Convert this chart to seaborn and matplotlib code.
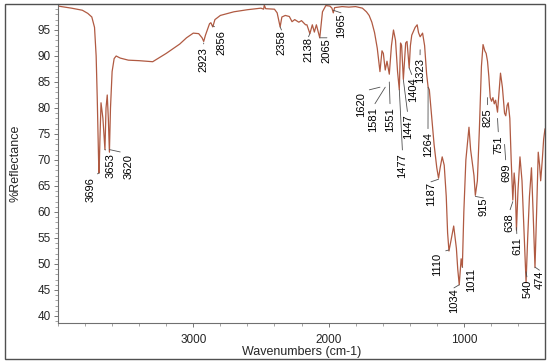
import numpy as np
import pandas as pd
import seaborn as sns
import matplotlib
matplotlib.use("Agg")
import matplotlib.pyplot as plt
from matplotlib.ticker import MultipleLocator, FixedLocator
from matplotlib.patches import Rectangle

# Spectrum (wavenumber, %reflectance)
wavenumber = [4000, 3900, 3820, 3780, 3750, 3730, 3718, 3710, 3700, 3696, 3690, 3682, 3668,
              3653, 3645, 3636, 3628, 3620, 3612, 3600, 3585, 3570, 3540, 3480, 3400, 3300,
              3200, 3100, 3050, 3000, 2960, 2935, 2923, 2910, 2880, 2870, 2856, 2840, 2800,
              2700, 2600, 2500, 2480, 2475, 2465, 2400, 2380, 2365, 2358, 2345, 2320, 2290,
              2270, 2250, 2220, 2200, 2170, 2160, 2138, 2120, 2105, 2090, 2065, 2045, 2020,
              1990, 1975, 1965, 1955, 1900, 1850, 1800, 1750, 1720, 1700, 1680, 1660, 1640,
              1620, 1605, 1595, 1581, 1568, 1551, 1535, 1520, 1505, 1490, 1477, 1468, 1460,
              1447, 1430, 1420, 1404, 1395, 1385, 1360, 1345, 1335, 1323, 1305, 1290, 1275,
              1264, 1255, 1240, 1220, 1200, 1187, 1175, 1160, 1145, 1130, 1120, 1110, 1095,
              1075, 1055, 1045, 1034, 1020, 1011, 1000, 985, 962, 950, 940, 925, 915, 900,
              885, 870, 858, 845, 835, 825, 815, 805, 795, 785, 775, 765, 751, 740, 729, 715,
              699, 690, 680, 672, 660, 650, 638, 628, 620, 611, 600, 585, 570, 555, 540, 528,
              515, 500, 488, 474, 462, 450, 440, 432, 420, 410, 400]
reflectance = [99.6, 99.2, 98.8, 98.2, 97.5, 95.5, 90, 82, 70, 67.5, 74, 81, 78,
               72, 80, 82.5, 78, 71.5, 80, 87, 89.5, 90, 89.6, 89.2, 89.1, 88.9,
               90.5, 92.3, 93.5, 94.4, 94.3, 93.5, 92.8, 94, 96.2, 96.4, 95.6, 97, 97.8,
               98.5, 98.9, 99.2, 99.0, 99.8, 99.1, 99.0, 98.3, 96.5, 95.6, 97.5, 97.8, 97.6,
               96.6, 97.0, 96.5, 96.8, 96, 96, 94.3, 96, 94.6, 96, 93.5, 98.5, 99.7,
               99.6, 99.2, 98.3, 99.3, 99.5, 99.4, 99.5, 99.2, 98.5, 97.8, 96.5, 94.5, 91.5,
               87, 91, 90.5, 87.3, 89, 86.5, 92, 95, 93, 87, 83.5, 92.5, 92,
               85.5, 92.5, 92.8, 87.7, 92, 94, 95.5, 96, 94.5, 93.7, 94.4, 92, 86.5,
               84, 83.5, 79, 73, 68.5, 66.5, 68.5, 70.6, 69, 63, 56, 52.5, 54.5,
               57.3, 53, 49, 46, 51, 49.4, 60, 70, 76.3, 72, 70, 67, 63.2, 66,
               76, 88, 92.2, 91, 90.5, 89, 86, 82, 81.3, 82, 80.8, 81.5, 79.2, 83, 86.7, 84,
               79, 78.5, 80.5, 81, 78, 70, 62.3, 67.5, 65, 56.5, 64, 70.6, 66, 56, 46.5, 55,
               63, 68.5, 60, 49.3, 60, 71.5, 69, 66, 70, 74, 76]

# Peak labels
peak_labels = ["3696", "3653", "3620", "2923", "2856", "2358", "2138", "2065", "1965",
               "1620", "1581", "1551", "1477", "1447", "1404", "1323", "1264", "1187",
               "1110", "1034", "1011", "915", "825", "751", "699", "638", "611", "540", "474"]
peak_wn = [3696, 3653, 3620, 2923, 2856, 2358, 2138, 2065, 1965,
           1620, 1581, 1551, 1477, 1447, 1404, 1323, 1264, 1187,
           1110, 1034, 1011, 915, 825, 751, 699, 638, 611, 540, 474]
peak_val = [67.5, 72, 72, 92.5, 95.8, 95.6, 94.3, 93.5, 98.8,
            84, 84, 85, 83.5, 85.4, 87.7, 91.2, 84, 66.3,
            52.7, 46, 49.4, 63, 82, 78, 73, 62, 57, 48.5, 49.4]
label_wn = [3756, 3608, 3479, 2924, 2795, 2348, 2148, 2012, 1908,
            1760, 1672, 1545, 1453, 1414, 1376, 1324, 1265, 1243,
            1195, 1073, 947, 855, 825, 744, 689, 666, 607, 530, 441]
label_top = [66.7, 71.3, 71.2, 91.7, 95.0, 95.0, 93.7, 93.5, 98.3,
             83.1, 80.2, 80.2, 71.3, 78.7, 85.8, 89.6, 75.4, 65.8,
             52.1, 45.4, 49.2, 62.7, 80.0, 74.8, 69.4, 59.8, 55.2, 46.9, 48.8]

y_ticks = [40, 45, 50, 55, 60, 65, 70, 75, 80, 85, 90, 95]
x_ticks = [1000, 2000, 3000]

df = pd.DataFrame({"Wavenumber": wavenumber, "Reflectance": reflectance})

sns.set_theme(style="white")
plt.rcParams["font.family"] = ["Liberation Sans", "DejaVu Sans"]

fig = plt.figure(figsize=(5.5, 3.62), dpi=100)
ax = fig.add_axes([58 / 550, 1 - 323 / 362, (545 - 58) / 550, (323 - 4) / 362])

sns.lineplot(data=df, x="Wavenumber", y="Reflectance", ax=ax, color="#b05a42",
             linewidth=0.9, sort=False, estimator=None)

ax.set_xlim(4000, 400)
ax.set_ylim(38.65, 100)

ax.yaxis.set_major_locator(FixedLocator(y_ticks))
ax.yaxis.set_minor_locator(MultipleLocator(1))
ax.xaxis.set_major_locator(FixedLocator(x_ticks))
ax.xaxis.set_minor_locator(MultipleLocator(200))
ax.tick_params(axis="both", which="major", direction="out", length=3, width=0.6,
               color="#606060", labelsize=8.5, pad=2, bottom=True, left=True)
ax.tick_params(axis="both", which="minor", direction="out", length=2, width=0.5,
               color="#808080", bottom=True, left=True)
ax.tick_params(axis="x", which="major", pad=5)

for s in ["top", "right"]:
    ax.spines[s].set_visible(False)
for s in ["left", "bottom"]:
    ax.spines[s].set_color("#707070")
    ax.spines[s].set_linewidth(0.8)

ax.set_xlabel("Wavenumbers (cm-1)", fontsize=9, labelpad=0)
ax.set_ylabel("%Reflectance", fontsize=9, labelpad=12)

for lab, pw, pv, lw_, lt in zip(peak_labels, peak_wn, peak_val, label_wn, label_top):
    ax.annotate(lab, xy=(pw, pv), xytext=(lw_, lt), textcoords="data",
                rotation=90, ha="center", va="top", fontsize=8, color="black",
                arrowprops=dict(arrowstyle="-", color="#505050", lw=0.6,
                                shrinkA=0, shrinkB=0, relpos=(0.5, 1.0)))

fig.patches.append(Rectangle((5 / 550, 3 / 362), 540 / 550, 355 / 362,
                             transform=fig.transFigure, fill=False,
                             edgecolor="#505050", linewidth=1.0))

fig.savefig("out.png", dpi=100)
